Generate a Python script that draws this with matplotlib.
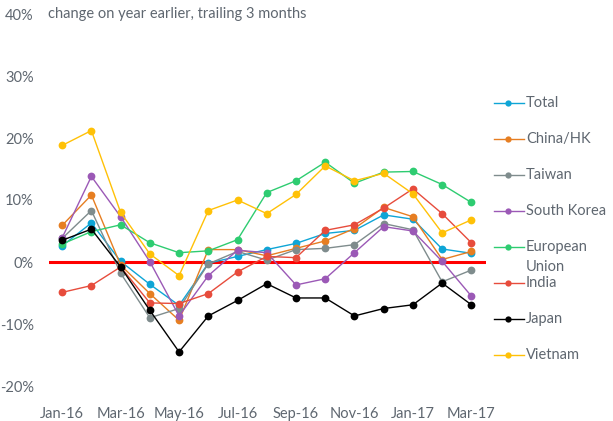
import matplotlib
matplotlib.use("Agg")
import matplotlib.pyplot as plt
from matplotlib.lines import Line2D

months = ["Jan-16", "Feb-16", "Mar-16", "Apr-16", "May-16", "Jun-16", "Jul-16", "Aug-16",
          "Sep-16", "Oct-16", "Nov-16", "Dec-16", "Jan-17", "Feb-17", "Mar-17"]
tick_labels = ["Jan-16", "Mar-16", "May-16", "Jul-16", "Sep-16", "Nov-16", "Jan-17", "Mar-17"]

total       = [2.6, 6.3, 0.1, -3.6, -7.0, -0.2, 0.9, 2.0, 3.0, 4.6, 5.1, 7.6, 6.9, 2.1, 1.4]
china_hk    = [5.9, 10.8, -0.5, -5.1, -9.4, 2.0, 2.0, 1.0, 2.2, 3.4, 5.4, 8.8, 7.3, 0.4, 1.7]
taiwan      = [3.8, 8.3, -1.8, -9.0, -7.5, -0.3, 1.7, 0.3, 2.0, 2.2, 2.8, 6.2, 5.2, -3.2, -1.3]
south_korea = [3.9, 13.8, 7.3, 0.05, -8.7, -2.2, 1.9, 1.5, -3.7, -2.7, 1.5, 5.7, 5.0, 0.1, -5.5]
eu          = [2.9, 4.9, 6.0, 3.1, 1.5, 1.8, 3.6, 11.2, 13.1, 16.1, 12.7, 14.5, 14.6, 12.5, 9.6]
india       = [-4.9, -3.8, -0.8, -6.6, -6.7, -5.1, -1.6, 0.9, 0.7, 5.1, 6.0, 8.7, 11.8, 7.8, 3.1]
japan       = [3.5, 5.3, -0.8, -7.8, -14.5, -8.7, -6.2, -3.5, -5.8, -5.8, -8.7, -7.5, -6.9, -3.4, -6.9]
vietnam     = [18.8, 21.2, 8.0, 1.3, -2.2, 8.3, 10.0, 7.8, 10.9, 15.5, 13.1, 14.3, 11.0, 4.7, 6.8]

series_names = ["Total", "China/HK", "Taiwan", "South Korea", "European\nUnion", "India", "Japan", "Vietnam"]
series_data = [total, china_hk, taiwan, south_korea, eu, india, japan, vietnam]
colors = ["#0ea5d6", "#e67e22", "#7f8c8d", "#9b59b6", "#2ecc71", "#e74c3c", "#000000", "#ffc107"]

plt.rcParams['font.family'] = ['Lato', 'DejaVu Sans']
text_color = "#5f6770"

fig = plt.figure(figsize=(6.13, 4.21), dpi=100)
ax = fig.add_axes([49/613, 1 - 386/421, (486-49)/613, (386-14)/421])

x = list(range(len(months)))
ax.axhline(0, color="#ff0000", lw=2.2, zorder=1.5)
for i, (name, vals, c) in enumerate(zip(series_names, series_data, colors)):
    ax.plot(x, vals, color=c, lw=1.0, marker="o", markersize=5.6, markeredgewidth=0,
            zorder=2 + i)

ax.set_xlim(-0.45, 14.5)
ax.set_ylim(-20, 40)
ax.set_yticks([-20, -10, 0, 10, 20, 30, 40])
ax.set_yticklabels(["-20%", "-10%", "0%", "10%", "20%", "30%", "40%"])
ax.set_xticks([months.index(t) for t in tick_labels])
ax.set_xticklabels(tick_labels)
ax.tick_params(length=0, labelsize=10.5, colors=text_color)
ax.tick_params(axis="x", pad=15)
ax.tick_params(axis="y", pad=11)
for s in ax.spines.values():
    s.set_visible(False)

fig.text(48/613, 1 - 14/421, "change on year earlier, trailing 3 months", fontsize=10.5,
         color=text_color, va="center", ha="left")

# legend
y0 = 103
for i, (name, c) in enumerate(zip(series_names, colors)):
    yy = 1 - (y0 + 36*i)/421
    fig.add_artist(Line2D([494/613, 524/613], [yy, yy], color=c, lw=1.0,
                          transform=fig.transFigure))
    fig.add_artist(Line2D([508/613], [yy], color=c, marker="o", markersize=4.5,
                          markeredgewidth=0, transform=fig.transFigure))
    if "\n" in name:
        first, second = name.split("\n")
        fig.text(526/613, yy, first, fontsize=10.5, color=text_color, va="center", ha="left")
        fig.text(526/613, yy - 20/421, second, fontsize=10.5, color=text_color, va="center", ha="left")
    else:
        fig.text(526/613, yy, name, fontsize=10.5, color=text_color, va="center", ha="left")

fig.savefig("out.png", dpi=100)
